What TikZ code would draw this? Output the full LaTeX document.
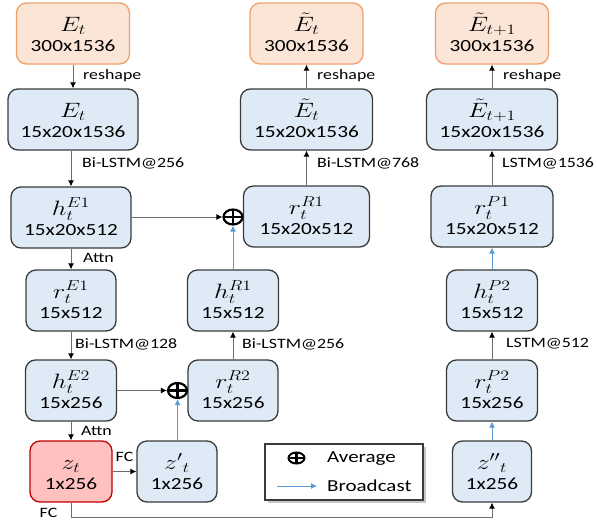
\documentclass[tikz,border=0pt]{standalone}
\usepackage{fontspec}
\setmainfont{Carlito}
\usepackage{graphicx}
\usetikzlibrary{arrows.meta,shapes.geometric}
\definecolor{bfill}{HTML}{DEEBF7}
\definecolor{bline}{HTML}{3A3A3A}
\definecolor{ofill}{HTML}{FBE5D6}
\definecolor{oline}{HTML}{F0A06A}
\definecolor{rfill}{HTML}{FFC0C0}
\definecolor{rline}{HTML}{C00000}
\definecolor{conn}{HTML}{6E6E6E}
\definecolor{bcast}{HTML}{5B9BD5}
\newcommand\sx[1]{\scalebox{1.25}[1]{#1}}
\newcommand\tl[2]{\sx{\begin{tabular}{@{}c@{}}\rule{0pt}{22pt}{\fontsize{20}{22}\selectfont #1}\\[-1pt]#2\end{tabular}}}
\begin{document}
\begin{tikzpicture}[x=1pt,y=-1pt,
 box/.style={rounded corners=10pt, line width=1.3pt, inner sep=0pt, minimum height=61pt, font=\fontsize{17}{21}\selectfont, text=black},
 bbox/.style={box, draw=bline, fill=bfill},
 obox/.style={box, draw=oline, fill=ofill},
 rbox/.style={box, draw=rline, fill=rfill},
 arr/.style={draw=conn, line width=0.9pt, -{Latex[length=6pt,width=6pt,black]}},
 bc/.style={draw=bcast, line width=0.9pt, -{Latex[length=6pt,width=6pt]}},
 lbl/.style={inner sep=0pt, anchor=west, font=\fontsize{14.3}{16}\selectfont},
 lgt/.style={inner sep=0pt, anchor=west, font=\fontsize{16.8}{18}\selectfont},
 opl/.style={ellipse, draw=black, line width=2.2pt, inner sep=0pt, minimum width=19pt, minimum height=15pt,
   path picture={\draw[line width=2.2pt] (path picture bounding box.north) -- (path picture bounding box.south) (path picture bounding box.west) -- (path picture bounding box.east);}},
]
\useasboundingbox (0,0) rectangle (597,522);
% column 1
\node[obox, minimum width=113pt] (Eo) at (73,33.5) {\tl{$E_t$}{300x1536}};
\node[bbox, minimum width=130pt] (Eb) at (73,119.5) {\tl{$E_t$}{15x20x1536}};
\node[bbox, minimum width=120pt] (h1) at (71,217.5) {\tl{$h_t^{E1}$}{15x20x512}};
\node[bbox, minimum width=90pt] (r1) at (71,300.5) {\tl{$r_t^{E1}$}{15x512}};
\node[bbox, minimum width=91pt] (h2) at (71,390.5) {\tl{$h_t^{E2}$}{15x256}};
\node[rbox, minimum width=82pt] (z) at (71,471.5) {\tl{$z_t$}{1x256}};
% column 2
\node[bbox, minimum width=80pt] (z1) at (177,471.5) {\tl{${z'}_t$}{1x256}};
\node[bbox, minimum width=90pt] (rR2) at (233,390.5) {\tl{$r_t^{R2}$}{15x256}};
\node[bbox, minimum width=91pt] (hR1) at (233,300.5) {\tl{$h_t^{R1}$}{15x512}};
\node[bbox, minimum width=126pt] (rR1) at (306.5,216.5) {\tl{$r_t^{R1}$}{15x20x512}};
\node[bbox, minimum width=132pt] (E2b) at (306.5,119.5) {\tl{$\tilde{E}_t$}{15x20x1536}};
\node[obox, minimum width=113pt] (E2o) at (306.5,33.5) {\tl{$\tilde{E}_t$}{300x1536}};
% column 3
\node[obox, minimum width=113pt] (E3o) at (492,33.5) {\tl{$\tilde{E}_{t+1}$}{300x1536}};
\node[bbox, minimum width=131pt] (E3b) at (492,119.5) {\tl{$\tilde{E}_{t+1}$}{15x20x1536}};
\node[bbox, minimum width=122pt] (rP1) at (492,216.5) {\tl{$r_t^{P1}$}{15x20x512}};
\node[bbox, minimum width=91pt] (hP2) at (492,300.5) {\tl{$h_t^{P2}$}{15x512}};
\node[bbox, minimum width=91pt] (rP2) at (492,390.5) {\tl{$r_t^{P2}$}{15x256}};
\node[bbox, minimum width=79pt] (z2) at (492,471.5) {\tl{${z''}_t$}{1x256}};
% averages
\node[opl] (op1) at (233,217) {};
\node[opl] (op2) at (177.5,390.5) {};
% connectors
\draw[arr] (Eo.south) -- (Eb.north);
\draw[arr] (h1.north |- Eb.south) -- (h1.north);
\draw[arr] (h1.south) -- (r1.north);
\draw[arr] (r1.south) -- (h2.north);
\draw[arr] (h2.south) -- (z.north);
\draw[arr] (z.east) -- (z1.west);
\draw[bc] (op2.south |- z1.north) -- (op2.south);
\draw[arr] (h2.east |- op2) -- (op2.west);
\draw[arr] (rR2.north) -- (hR1.south);
\draw[bc] (hR1.north) -- (op1.south);
\draw[arr] (h1.east |- op1) -- (op1.west);
\draw[arr] (rR1.north) -- (E2b.south);
\draw[arr] (E2b.north) -- (E2o.south);
\coordinate (bot) at (0,517.5);
\draw[arr] (z.south) -- (z.south |- bot) -- (z2.south |- bot) -- (z2.south);
\draw[bc] (z2.north) -- (rP2.south);
\draw[arr] (rP2.north) -- (hP2.south);
\draw[bc] (hP2.north) -- (rP1.south);
\draw[arr] (rP1.north) -- (E3b.south);
\draw[arr] (E3b.north) -- (E3o.south);
% labels
\node[lbl] (l1) at (83,76) {\sx{reshape}};
\node[lbl] (l2) at (82,163) {\sx{Bi-LSTM@256}};
\node[lbl] (l3) at (83,258) {\sx{Attn}};
\node[lbl] (l4) at (75,344) {\sx{Bi-LSTM@128}};
\node[lbl] (l5) at (81,431) {\sx{Attn}};
\node[lbl, anchor=center] (l6) at (124.5,457) {\sx{FC}};
\node[lbl, anchor=center] (l7) at (48.5,513) {\sx{FC}};
\node[lbl] (l8) at (242,344) {\sx{Bi-LSTM@256}};
\node[lbl] (l9) at (317,163) {\sx{Bi-LSTM@768}};
\node[lbl] (l10) at (317,76) {\sx{reshape}};
\node[lbl] (l11) at (503,76) {\sx{reshape}};
\node[lbl] (l12) at (502,163) {\sx{LSTM@1536}};
\node[lbl] (l13) at (506,344) {\sx{LSTM@512}};
% legend
\fill[gray!45] (267.5,446.5) rectangle (425.5,502.5);
\node[draw=bline, fill=white, line width=1.3pt, minimum width=158pt, minimum height=56pt, inner sep=0pt] (leg) at (344,472) {};
\node[opl, minimum width=16pt, minimum height=11pt, line width=2pt] (lop) at (296.5,458) {};
\node[lgt] (lav) at (327,459) {\sx{Average}};
\coordinate (la) at (277,486);
\coordinate (lb) at (317,486);
\draw[bc] (la) -- (lb);
\node[lgt] (lbr) at (327,486) {\sx{Broadcast}};
\end{tikzpicture}
\end{document}
